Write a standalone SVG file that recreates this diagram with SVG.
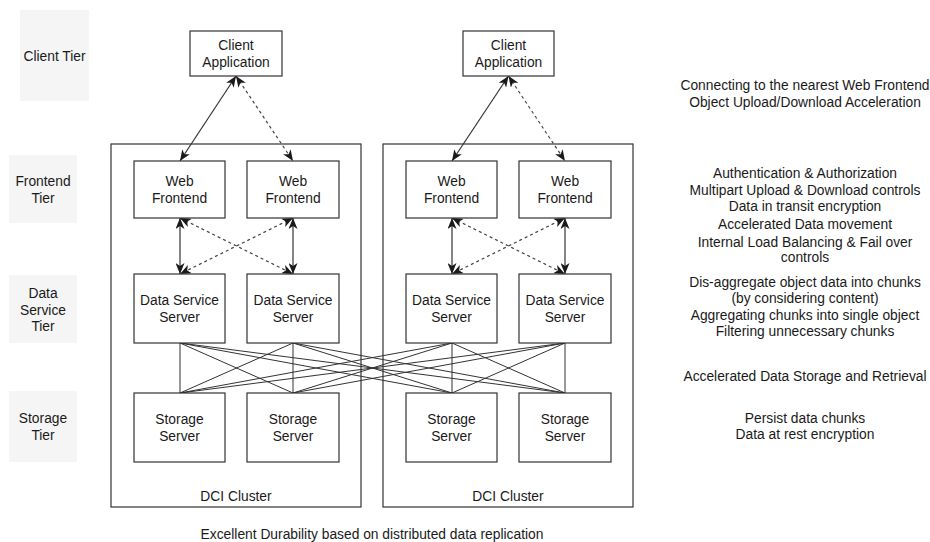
<svg xmlns="http://www.w3.org/2000/svg" width="930" height="542" viewBox="0 0 930 542">
  <style>
    text { font-family: "Liberation Sans", Arial, sans-serif; font-size: 13.8px; fill: #1a1a1a; text-anchor: middle; }
    .tier { fill: #f5f5f5; stroke: none; }
    .box { fill: #ffffff; stroke: #333333; stroke-width: 1.2; }
    .cluster { fill: none; stroke: #333333; stroke-width: 1.2; }
    .conn { fill: none; stroke: #333333; stroke-width: 1.2; }
    .dash { stroke-dasharray: 3 3; stroke: #444444; }
    .mesh { fill: none; stroke: #333333; stroke-width: 1; }
  </style>
  <defs>
    <marker id="arr" viewBox="0 0 11 9" refX="11" refY="4.5" markerWidth="11" markerHeight="9" markerUnits="userSpaceOnUse" orient="auto-start-reverse">
      <path d="M0,0 L11,4.5 L0,9 L3,4.5 z" fill="#1a1a1a" stroke="none"/>
    </marker>
  </defs>

  <rect width="930" height="542" fill="#ffffff"/>

  <g id="tier-labels">
    <g id="client-tier"><rect class="tier" x="20" y="10" width="69" height="91"/><text x="54.5" y="61">Client Tier</text></g>
    <g id="frontend-tier"><rect class="tier" x="9" y="155" width="68" height="68"/><text x="43" y="186">Frontend</text><text x="43" y="203">Tier</text></g>
    <g id="data-service-tier"><rect class="tier" x="9" y="275" width="68" height="68"/><text x="43" y="298">Data</text><text x="43" y="314.5">Service</text><text x="43" y="331">Tier</text></g>
    <g id="storage-tier"><rect class="tier" x="9" y="391" width="68" height="71"/><text x="43" y="423">Storage</text><text x="43" y="440">Tier</text></g>
  </g>

  <g id="cluster-1"><rect class="cluster" x="111" y="144" width="250" height="363"/><text x="236" y="501">DCI Cluster</text></g>
  <g id="cluster-2"><rect class="cluster" x="383" y="144" width="250" height="363"/><text x="508" y="501">DCI Cluster</text></g>

  <g id="connectors">
    <line class="conn" x1="236" y1="76" x2="180" y2="161" marker-start="url(#arr)" marker-end="url(#arr)"/>
    <line class="conn dash" x1="236" y1="76" x2="293" y2="161" marker-start="url(#arr)" marker-end="url(#arr)"/>
    <line class="conn" x1="508.5" y1="76" x2="452" y2="161" marker-start="url(#arr)" marker-end="url(#arr)"/>
    <line class="conn dash" x1="508.5" y1="76" x2="565" y2="161" marker-start="url(#arr)" marker-end="url(#arr)"/>

    <line class="conn" x1="180" y1="218" x2="180" y2="274" marker-start="url(#arr)" marker-end="url(#arr)"/>
    <line class="conn" x1="293" y1="218" x2="293" y2="274" marker-start="url(#arr)" marker-end="url(#arr)"/>
    <line class="conn dash" x1="180" y1="218" x2="293" y2="274" marker-start="url(#arr)" marker-end="url(#arr)"/>
    <line class="conn dash" x1="293" y1="218" x2="180" y2="274" marker-start="url(#arr)" marker-end="url(#arr)"/>
    <line class="conn" x1="452" y1="218" x2="452" y2="274" marker-start="url(#arr)" marker-end="url(#arr)"/>
    <line class="conn" x1="565" y1="218" x2="565" y2="274" marker-start="url(#arr)" marker-end="url(#arr)"/>
    <line class="conn dash" x1="452" y1="218" x2="565" y2="274" marker-start="url(#arr)" marker-end="url(#arr)"/>
    <line class="conn dash" x1="565" y1="218" x2="452" y2="274" marker-start="url(#arr)" marker-end="url(#arr)"/>

    <g class="mesh">
      <line x1="180" y1="343" x2="180" y2="393"/>
      <line x1="180" y1="343" x2="293" y2="393"/>
      <line x1="180" y1="343" x2="452" y2="393"/>
      <line x1="180" y1="343" x2="565" y2="393"/>
      <line x1="293" y1="343" x2="180" y2="393"/>
      <line x1="293" y1="343" x2="293" y2="393"/>
      <line x1="293" y1="343" x2="452" y2="393"/>
      <line x1="293" y1="343" x2="565" y2="393"/>
      <line x1="452" y1="343" x2="180" y2="393"/>
      <line x1="452" y1="343" x2="293" y2="393"/>
      <line x1="452" y1="343" x2="452" y2="393"/>
      <line x1="452" y1="343" x2="565" y2="393"/>
      <line x1="565" y1="343" x2="180" y2="393"/>
      <line x1="565" y1="343" x2="293" y2="393"/>
      <line x1="565" y1="343" x2="452" y2="393"/>
      <line x1="565" y1="343" x2="565" y2="393"/>
    </g>
  </g>

  <g id="client-app-1"><rect class="box" x="190" y="31" width="92" height="45"/><text x="236" y="50">Client</text><text x="236" y="67">Application</text></g>
  <g id="client-app-2"><rect class="box" x="463" y="31" width="91" height="45"/><text x="508.5" y="50">Client</text><text x="508.5" y="67">Application</text></g>

  <g id="web-frontend-1"><rect class="box" x="134" y="161" width="91" height="57"/><text x="179.5" y="186">Web</text><text x="179.5" y="203">Frontend</text></g>
  <g id="web-frontend-2"><rect class="box" x="247" y="161" width="92" height="57"/><text x="293" y="186">Web</text><text x="293" y="203">Frontend</text></g>
  <g id="web-frontend-3"><rect class="box" x="406" y="161" width="91" height="57"/><text x="451.5" y="186">Web</text><text x="451.5" y="203">Frontend</text></g>
  <g id="web-frontend-4"><rect class="box" x="519" y="161" width="92" height="57"/><text x="565" y="186">Web</text><text x="565" y="203">Frontend</text></g>

  <g id="data-service-1"><rect class="box" x="134" y="274" width="91" height="69"/><text x="179.5" y="305">Data Service</text><text x="179.5" y="322">Server</text></g>
  <g id="data-service-2"><rect class="box" x="247" y="274" width="92" height="69"/><text x="293" y="305">Data Service</text><text x="293" y="322">Server</text></g>
  <g id="data-service-3"><rect class="box" x="406" y="274" width="91" height="69"/><text x="451.5" y="305">Data Service</text><text x="451.5" y="322">Server</text></g>
  <g id="data-service-4"><rect class="box" x="519" y="274" width="92" height="69"/><text x="565" y="305">Data Service</text><text x="565" y="322">Server</text></g>

  <g id="storage-1"><rect class="box" x="134" y="393" width="91" height="69"/><text x="179.5" y="424">Storage</text><text x="179.5" y="441">Server</text></g>
  <g id="storage-2"><rect class="box" x="247" y="393" width="92" height="69"/><text x="293" y="424">Storage</text><text x="293" y="441">Server</text></g>
  <g id="storage-3"><rect class="box" x="406" y="393" width="91" height="69"/><text x="451.5" y="424">Storage</text><text x="451.5" y="441">Server</text></g>
  <g id="storage-4"><rect class="box" x="519" y="393" width="92" height="69"/><text x="565" y="424">Storage</text><text x="565" y="441">Server</text></g>

  <g id="bottom-note"><text x="372" y="539">Excellent Durability based on distributed data replication</text></g>

  <g id="descriptions">
    <text x="805" y="90">Connecting to the nearest Web Frontend</text>
    <text x="805" y="107">Object Upload/Download Acceleration</text>
    <text x="805" y="178">Authentication &amp; Authorization</text>
    <text x="805" y="195">Multipart Upload &amp; Download controls</text>
    <text x="805" y="211">Data in transit encryption</text>
    <text x="805" y="229">Accelerated Data movement</text>
    <text x="805" y="247">Internal Load Balancing &amp; Fail over</text>
    <text x="805" y="262">controls</text>
    <text x="805" y="287">Dis-aggregate object data into chunks</text>
    <text x="805" y="303">(by considering content)</text>
    <text x="805" y="320">Aggregating chunks into single object</text>
    <text x="805" y="336">Filtering unnecessary chunks</text>
    <text x="805" y="381">Accelerated Data Storage and Retrieval</text>
    <text x="805" y="423">Persist data chunks</text>
    <text x="805" y="439">Data at rest encryption</text>
  </g>
</svg>
